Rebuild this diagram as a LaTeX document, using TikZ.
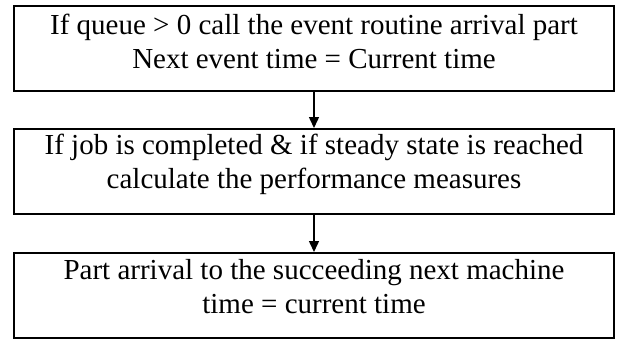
\documentclass[tikz,border=0pt]{standalone}
\usepackage{fontspec}
\setmainfont{Liberation Serif}
\usetikzlibrary{arrows.meta}
\begin{document}
\begin{tikzpicture}[x=1pt,y=-1pt,
  stepbox/.style={draw, line width=2pt, minimum width=600pt, minimum height=85pt, inner sep=0pt},
  boxtext/.style={align=center, font=\fontsize{29}{34}\selectfont, inner sep=0pt},
  flow/.style={line width=1.5pt, -{Triangle[width=10pt,length=11pt]}}]
  \useasboundingbox (0,0) rectangle (621,340);
  % three stacked process boxes
  \node[stepbox] (b1) at (314,48.5) {};
  \node[stepbox] (b2) at (314,171.5) {};
  \node[stepbox] (b3) at (314,295.5) {};
  % box captions, sitting a little above centre
  \node[boxtext] (t1) at ([yshift=7pt]b1.center) {If queue > 0 call the event routine arrival part\\Next event time = Current time};
  \node[boxtext] (t2) at ([yshift=7pt]b2.center) {If job is completed \& if steady state is reached\\calculate the performance measures};
  \node[boxtext] (t3) at ([yshift=9pt]b3.center) {Part arrival to the succeeding next machine\\time = current time};
  % connectors
  \draw[flow] (b1.south) -- (b2.north);
  \draw[flow] (b2.south) -- (b3.north);
\end{tikzpicture}
\end{document}
